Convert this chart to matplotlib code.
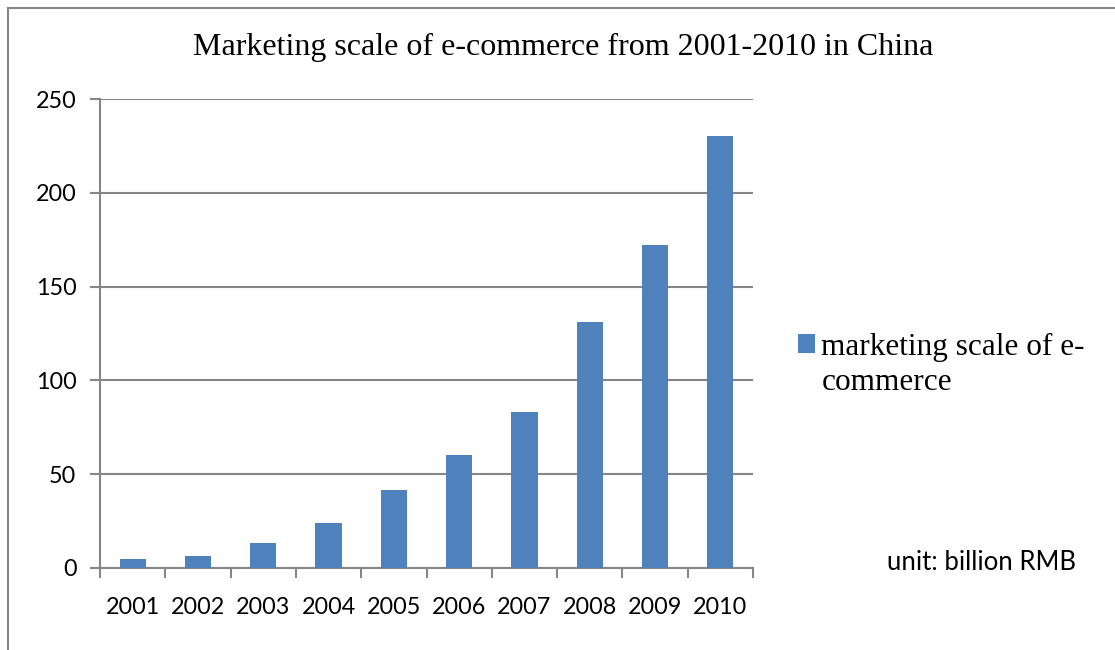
import matplotlib
matplotlib.use("Agg")
import matplotlib.pyplot as plt
from matplotlib.lines import Line2D

# data
years = ['2001', '2002', '2003', '2004', '2005', '2006', '2007', '2008', '2009', '2010']
scale = [4.8, 6.4, 13.3, 24.0, 41.6, 60.2, 83.2, 131.1, 172.2, 230.3]
yticks = [0, 50, 100, 150, 200, 250]

bar_color = '#4F81BD'
grid_color = '#868686'
W, H = 1115, 650

fig = plt.figure(figsize=(W / 100, H / 100), dpi=100)
ax = fig.add_axes([100 / W, 1 - 568 / H, (753 - 100) / W, (568 - 99) / H])

x = range(len(years))
ax.bar(x, scale, width=0.4, color=bar_color, zorder=3,
       label='marketing scale of e-')

ax.set_xlim(-0.5, len(years) - 0.5)
ax.set_ylim(0, 250)
ax.set_yticks(yticks)
ax.yaxis.grid(True, color=grid_color, linewidth=1.5, zorder=0)

ax.set_xticks(list(x))
ax.set_xticklabels(years)
ax.set_xticks([i - 0.5 for i in range(len(years) + 1)], minor=True)
ax.tick_params(axis='x', which='major', length=0, pad=21)
ax.tick_params(axis='x', which='minor', length=7, width=1.5, color=grid_color, direction='out')
ax.tick_params(axis='y', length=7, width=1.5, color=grid_color, pad=10)
for lab in ax.get_xticklabels() + ax.get_yticklabels():
    lab.set_fontfamily('Lato')
    lab.set_fontsize(16.8)

for s in ['top', 'right']:
    ax.spines[s].set_visible(False)
for s in ['left', 'bottom']:
    ax.spines[s].set_color(grid_color)
    ax.spines[s].set_linewidth(1.5)

fig.text(563 / W, 1 - 47 / H, 'Marketing scale of e-commerce from 2001-2010 in China',
         ha='center', va='center', fontsize=23, family='Liberation Serif')

# legend: handle sits next to the first line, label wraps to a second line
ax.legend(loc='center left', bbox_to_anchor=(798 / W, 1 - 347 / H),
          bbox_transform=fig.transFigure, frameon=False,
          prop={'family': 'Liberation Serif', 'size': 22.5},
          handlelength=0.55, handleheight=0.55, handletextpad=0.2,
          borderaxespad=0, borderpad=0)
fig.text(822 / W, 1 - 382 / H, 'commerce', ha='left', va='center',
         fontsize=22.5, family='Liberation Serif')

fig.text(1076 / W, 1 - 562 / H, 'unit: billion RMB', ha='right', va='center',
         fontsize=18.5, family='Lato')

# chart frame (only top and left edges show in the reference)
fig.add_artist(Line2D([8 / W, 1], [1 - 8 / H, 1 - 8 / H], transform=fig.transFigure,
                      color=grid_color, linewidth=1.5))
fig.add_artist(Line2D([8 / W, 8 / W], [0, 1 - 8 / H], transform=fig.transFigure,
                      color=grid_color, linewidth=1.5))

fig.savefig('out.png', dpi=100)
